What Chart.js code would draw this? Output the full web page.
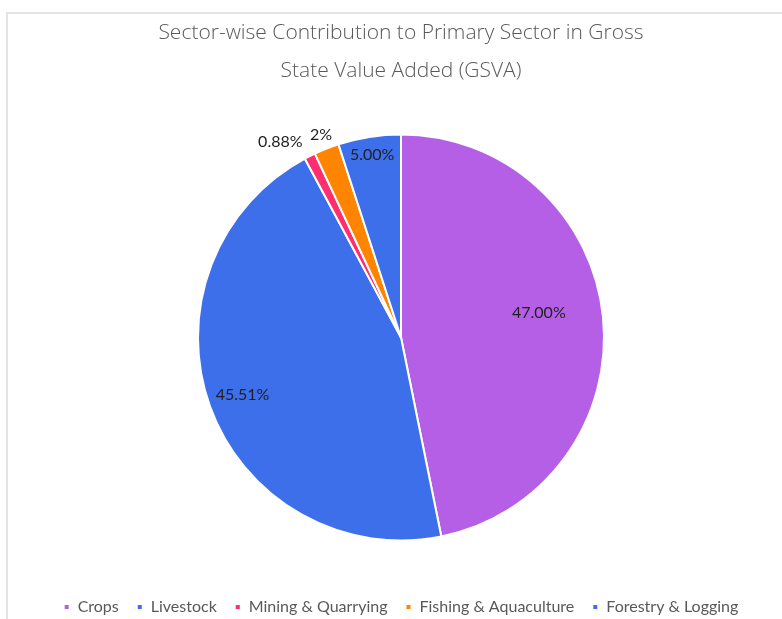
<!DOCTYPE html>
<html>
<head>
<meta charset="utf-8">
<script src="https://cdn.jsdelivr.net/npm/chart.js@4"></script>
<style>
  html, body { margin: 0; padding: 0; background: #fff; }
  #wrap { position: relative; width: 782px; height: 619px; overflow: hidden; }
  #frame {
    position: absolute; left: 6px; top: 12px; width: 800px; height: 640px;
    border: 2px solid #e3e3e3; box-sizing: border-box;
  }
  #gsva { position: absolute; left: 0; top: 0; }
</style>
</head>
<body>
<div id="wrap">
  <div id="frame"></div>
  <canvas id="gsva" width="782" height="619"></canvas>
</div>
<script>
// --- Datos del gráfico ---
const sectors = ["Crops", "Livestock", "Mining & Quarrying", "Fishing & Aquaculture", "Forestry & Logging"];
const shares = [47.0, 45.51, 0.88, 2, 5.0];
const shareLabels = ["47.00%", "45.51%", "0.88%", "2%", "5.00%"];
const sliceColors = ["#B55FE6", "#3D6FEB", "#FF2E6E", "#FF8400", "#3D6FEB"];

// colocación de cada etiqueta: fracción del radio, giro (grados) y alineación
const labelRadius = [0.69, 0.83, 1.08, 1.075, 0.91];
const labelTurn = [-4.5, 0, 0, 0, 0];
const labelAlign = ["center", "center", "right", "center", "center"];

const labelFont = "16px Lato, 'DejaVu Sans', sans-serif";

// --- Etiquetas de porcentaje sobre cada porción ---
const sliceLabels = {
  id: "sliceLabels",
  afterDatasetsDraw(chart) {
    const ctx = chart.ctx;
    const arcs = chart.getDatasetMeta(0).data;
    ctx.save();
    ctx.font = labelFont;
    ctx.fillStyle = "#1f1f1f";
    ctx.textBaseline = "middle";
    arcs.forEach((arc, i) => {
      const { x, y, startAngle, endAngle, outerRadius } = arc.getProps(
        ["x", "y", "startAngle", "endAngle", "outerRadius"], true);
      const mid = (startAngle + endAngle) / 2 + labelTurn[i] * Math.PI / 180;
      const r = outerRadius * labelRadius[i];
      ctx.textAlign = labelAlign[i];
      ctx.fillText(shareLabels[i], x + Math.cos(mid) * r, y + Math.sin(mid) * r);
    });
    ctx.restore();
  },
};

new Chart(document.getElementById("gsva"), {
  type: "pie",
  data: {
    labels: sectors,
    datasets: [{
      data: shares,
      backgroundColor: sliceColors,
      borderColor: "#ffffff",
      borderWidth: 2,
      radius: 203,
    }],
  },
  options: {
    responsive: false,
    animation: false,
    // el margen inferior negativo baja la leyenda hasta el borde
    layout: { padding: { left: 20, right: 0, top: 0, bottom: -6 } },
    plugins: {
      title: {
        display: true,
        text: ["Sector-wise Contribution to Primary Sector in Gross", "State Value Added (GSVA)"],
        color: "#595959",
        font: { family: "'Open Sans', sans-serif", size: 21, weight: 300, lineHeight: 1.81 },
        padding: { top: 14, bottom: 4 },
      },
      legend: {
        position: "bottom",
        labels: {
          usePointStyle: true,
          pointStyle: "rect",
          boxWidth: 6,
          boxHeight: 6,
          color: "#595959",
          font: { family: "Lato, sans-serif", size: 16 },
          padding: 18,
        },
      },
      tooltip: { enabled: false },
    },
  },
  plugins: [sliceLabels],
});
</script>
</body>
</html>
